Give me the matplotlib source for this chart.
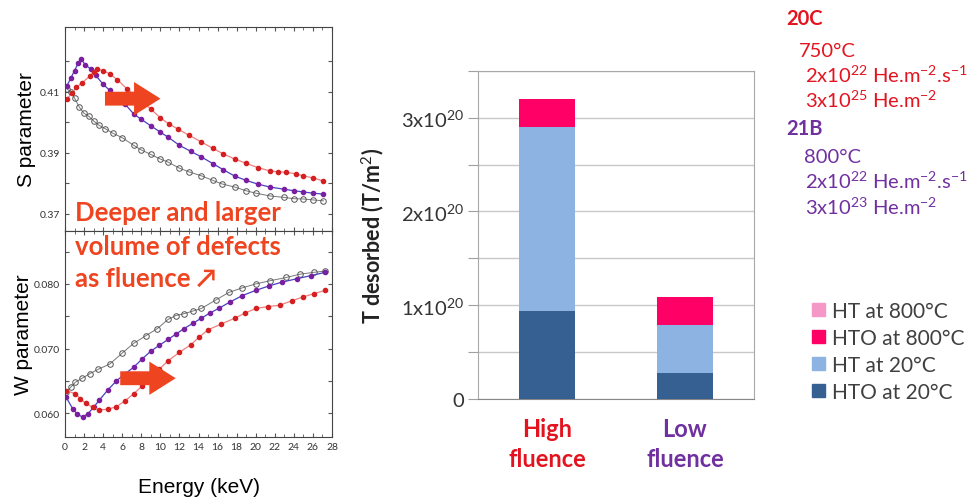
import numpy as np
import matplotlib
matplotlib.use("Agg")
import matplotlib.pyplot as plt
from matplotlib.patches import Patch

plt.rcParams['font.family'] = ['Lato', 'DejaVu Sans']
plt.rcParams['mathtext.fontset'] = 'custom'
plt.rcParams['mathtext.rm'] = 'Lato'
plt.rcParams['mathtext.bf'] = 'Lato:bold'

# ---- S parameter vs energy ----
s_black_e = [0.2, 0.6, 1.0, 1.5, 2.0, 2.5, 3.0, 3.6, 4.2, 5.0, 6.0, 7.2, 8.0, 9.0, 10.0,
             10.8, 12.0, 13.0, 14.3, 15.5, 16.5, 17.8, 19.0, 20.0, 21.5, 23.0, 24.0, 25.0, 26.0, 27.1]
s_black = [0.411, 0.410, 0.408, 0.405, 0.403, 0.402, 0.4005, 0.399, 0.398, 0.3965, 0.395, 0.3925,
           0.391, 0.3895, 0.388, 0.387, 0.385, 0.3838, 0.3825, 0.381, 0.3798, 0.3788, 0.3776,
           0.3768, 0.3759, 0.3754, 0.375, 0.3749, 0.3746, 0.3743]

s_purple_e = [0.2, 0.6, 1.0, 1.4, 1.7, 2.1, 2.7, 3.2, 4.0, 4.7, 5.4, 6.3, 7.2, 8.0, 9.0, 10.0,
              10.8, 12.0, 13.2, 14.3, 15.5, 16.6, 17.8, 19.0, 20.2, 21.5, 23.0, 24.0, 25.0, 26.0, 27.1]
s_purple = [0.412, 0.4145, 0.417, 0.4195, 0.4208, 0.419, 0.4175, 0.4155, 0.4125, 0.4105, 0.4087,
            0.406, 0.4028, 0.401, 0.3989, 0.3968, 0.3952, 0.3925, 0.3905, 0.3887, 0.3865, 0.3845,
            0.3824, 0.381, 0.3798, 0.3788, 0.3781, 0.3776, 0.3772, 0.3768, 0.3765]

s_red_e = [0.2, 0.7, 1.2, 1.8, 2.6, 3.0, 3.4, 4.0, 4.7, 5.5, 6.5, 7.3, 8.2, 9.0, 10.0, 10.9, 11.8,
           13.0, 14.3, 15.5, 16.6, 17.8, 19.0, 20.2, 21.5, 22.3, 23.2, 24.2, 25.0, 26.0, 27.1]
s_red = [0.4077, 0.4095, 0.4116, 0.413, 0.4152, 0.4165, 0.4175, 0.417, 0.4159, 0.414, 0.411,
         0.409, 0.4065, 0.4044, 0.4015, 0.3995, 0.3979, 0.3958, 0.3936, 0.3915, 0.3897, 0.388,
         0.3866, 0.3852, 0.3841, 0.3838, 0.3837, 0.3831, 0.3825, 0.3818, 0.3808]

# ---- W parameter vs energy ----
w_black_e = [0.1, 0.6, 1.1, 1.8, 2.6, 3.5, 4.7, 6.0, 7.2, 8.5, 9.7, 10.8, 11.6, 12.5, 13.4, 14.3,
             15.8, 17.2, 18.6, 20.0, 21.5, 23.2, 24.6, 26.1, 27.3]
w_black = [0.0632, 0.064, 0.0648, 0.0654, 0.0661, 0.0668, 0.0676, 0.0693, 0.0708, 0.072, 0.0731,
           0.0745, 0.0751, 0.0754, 0.0758, 0.0762, 0.0775, 0.0787, 0.0794, 0.08, 0.0805, 0.081,
           0.0815, 0.0818, 0.082]

w_purple_e = [0.1, 0.8, 1.3, 1.85, 2.4, 3.0, 3.6, 4.5, 5.4, 6.3, 7.2, 8.1, 9.0, 9.9, 10.8, 11.6,
              12.5, 13.4, 14.3, 15.2, 16.1, 17.3, 18.6, 20.0, 21.4, 22.8, 24.3, 25.8, 27.3]
w_purple = [0.0625, 0.0607, 0.0598, 0.0594, 0.0599, 0.0609, 0.062, 0.0636, 0.065, 0.0661, 0.0671,
            0.0684, 0.0696, 0.0705, 0.0714, 0.0722, 0.0731, 0.0739, 0.0747, 0.0755, 0.0762, 0.0772,
            0.0782, 0.079, 0.0797, 0.0803, 0.0808, 0.0813, 0.0818]

w_red_e = [0.1, 1.1, 1.6, 2.2, 2.9, 3.6, 4.5, 5.4, 6.3, 7.2, 8.1, 9.0, 9.9, 10.8, 12.0, 13.2, 14.1,
           15.0, 16.4, 17.8, 18.9, 20.0, 21.3, 22.5, 23.8, 25.0, 26.1, 27.3]
w_red = [0.0635, 0.063, 0.0622, 0.0615, 0.0609, 0.0605, 0.0606, 0.061, 0.0619, 0.063, 0.0642,
         0.0655, 0.0668, 0.0681, 0.0694, 0.0706, 0.0718, 0.0729, 0.0738, 0.0747, 0.0755, 0.0762,
         0.0765, 0.0767, 0.0774, 0.078, 0.0785, 0.079]

# ---- T desorbed bars (units of 1e20 T/m2) ----
fluence = ['High\nfluence', 'Low\nfluence']
fluence_colors = ['#e3141f', '#7030a0']
hto_20 = [0.94, 0.28]
ht_20 = [1.96, 0.51]
hto_800 = [0.30, 0.30]
ht_800 = [0.0, 0.0]

text_red = '#ee4420'

fig = plt.figure(figsize=(9.69, 5.02), dpi=100)
W, H = 969.0, 502.0


def box(x0, y0, x1, y1):
    return [x0 / W, 1 - y1 / H, (x1 - x0) / W, (y1 - y0) / H]


ax_s = fig.add_axes(box(65, 28, 332, 232))
ax_w = fig.add_axes(box(65, 232, 332, 438))

for ax in (ax_s, ax_w):
    ax.set_xlim(0, 28)
    ax.set_xticks(np.arange(0, 29, 2))
    ax.set_xticks(np.arange(0, 29, 1), minor=True)
    ax.tick_params(which='both', top=True, right=True, direction='in', labelsize=7.5,
                   labelcolor='#333333', color='#555555')
    ax.tick_params(which='major', length=3)
    ax.tick_params(which='minor', length=2)
    for sp in ax.spines.values():
        sp.set_color('#444444')

ax_s.plot(s_black_e, s_black, '-', color='#777777', lw=0.7, marker='o', ms=4, mfc='none',
          mec='#555555', mew=0.7)
ax_s.plot(s_purple_e, s_purple, '-', color='#4a40c0', lw=0.9, marker='o', ms=3,
          mfc='#7a1fa0', mec='#7a1fa0')
ax_s.plot(s_red_e, s_red, '-', color='#f08080', lw=0.9, marker='o', ms=3,
          mfc='#d42020', mec='#d42020')
ax_s.set_ylim(0.3644, 0.4313)
ax_s.set_yticks([0.37, 0.38, 0.39, 0.40, 0.41, 0.42])
ax_s.set_yticklabels(['0.37', '', '0.39', '', '0.41', ''])
ax_s.tick_params(axis='x', labelbottom=False)
ax_s.set_ylabel('S parameter', fontsize=15, family=['Liberation Sans'], labelpad=3)

ax_w.plot(w_black_e, w_black, '-', color='#777777', lw=0.7, marker='o', ms=4, mfc='none',
          mec='#555555', mew=0.7)
ax_w.plot(w_purple_e, w_purple, '-', color='#4a40c0', lw=0.9, marker='o', ms=3,
          mfc='#7a1fa0', mec='#7a1fa0')
ax_w.plot(w_red_e, w_red, '-', color='#f08080', lw=0.9, marker='o', ms=3,
          mfc='#d42020', mec='#d42020')
ax_w.set_ylim(0.0563, 0.0882)
ax_w.set_yticks([0.060, 0.065, 0.070, 0.075, 0.080, 0.085])
ax_w.set_yticklabels(['0.060', '', '0.070', '', '0.080', ''])
ax_w.set_ylabel('W parameter', fontsize=15, family=['Liberation Sans'], labelpad=1)
ax_w.set_xlabel('Energy (keV)', fontsize=15, family=['Liberation Sans'], labelpad=19)

# fat arrows
arrow = dict(arrowstyle='simple,head_width=1.2,head_length=0.95,tail_width=0.5',
             color=text_red, lw=0, mutation_scale=20)
ax_s.annotate('', xy=(10.3, 0.4078), xytext=(3.9, 0.4078), arrowprops=arrow)
ax_w.annotate('', xy=(11.9, 0.0654), xytext=(5.5, 0.0654), arrowprops=arrow)

fig.text(75 / W, 1 - 213 / H, 'Deeper and larger', color=text_red, fontsize=18.5,
         fontweight='bold', va='center')
fig.text(75 / W, 1 - 247 / H, 'volume of defects', color=text_red, fontsize=18.5,
         fontweight='bold', va='center')
fig.text(75 / W, 1 - 279 / H, 'as fluence \u2197', color=text_red, fontsize=18.5,
         fontweight='bold', va='center')

# ---- stacked bars ----
ax_b = fig.add_axes(box(478, 71.7, 754, 400))
x = np.arange(len(fluence))
bw = 0.4
ax_b.bar(x, hto_20, bw, color='#376092', zorder=3)
ax_b.bar(x, ht_20, bw, bottom=hto_20, color='#8db3e2', zorder=3)
base = np.array(hto_20) + np.array(ht_20)
ax_b.bar(x, hto_800, bw, bottom=base, color='#ff0066', zorder=3)
ax_b.bar(x, ht_800, bw, bottom=base + np.array(hto_800), color='#f598c8', zorder=3)
ax_b.set_xlim(-0.5, 1.5)
ax_b.set_ylim(0, 3.5)
ax_b.set_yticks(np.arange(0, 3.51, 0.5))
ax_b.set_yticklabels(['0', '', '1x10$^{20}$', '', '2x10$^{20}$', '', '3x10$^{20}$', ''])
ax_b.yaxis.grid(True, color='#c8c8c8', lw=1, zorder=0)
ax_b.tick_params(axis='y', length=7, color='#a0a0a0', labelsize=14.5, labelcolor='#333333', pad=3)
ax_b.tick_params(axis='x', length=0, labelbottom=False)
for sp in ax_b.spines.values():
    sp.set_color('#a8a8a8')
ax_b.spines['bottom'].set_color('#888888')
ax_b.set_ylabel('T desorbed (T/m$^{2}$)', fontsize=15.5, fontweight='bold', color='#222222',
                labelpad=10)
for i, lab in enumerate(fluence):
    ax_b.text(x[i], -0.055, lab, transform=ax_b.get_xaxis_transform(), ha='center', va='top',
              fontsize=17, fontweight='bold', color=fluence_colors[i], linespacing=1.35)

fig.legend([Patch(color='#f598c8'), Patch(color='#ff0066'), Patch(color='#8db3e2'),
            Patch(color='#376092')],
           ['HT at 800°C', 'HTO at 800°C', 'HT at 20°C', 'HTO at 20°C'],
           loc='upper left', bbox_to_anchor=(812 / W, 1 - 302 / H), frameon=False,
           fontsize=15, handlelength=0.6, handleheight=0.6, handletextpad=0.35,
           labelspacing=0.33, labelcolor='#404040', borderaxespad=0, borderpad=0)

# ---- conditions text ----
red_c = '#e3141f'
pur_c = '#7030a0'
cond = [
    (786, 25, '20C', red_c, 'bold'),
    (799, 57, '750°C', red_c, 'normal'),
    (805, 83, '2x10$^{22}$ He.m$^{-2}$.s$^{-1}$', red_c, 'normal'),
    (805, 108, '3x10$^{25}$ He.m$^{-2}$', red_c, 'normal'),
    (786, 135, '21B', pur_c, 'bold'),
    (804, 163, '800°C', pur_c, 'normal'),
    (805, 189, '2x10$^{22}$ He.m$^{-2}$.s$^{-1}$', pur_c, 'normal'),
    (805, 215, '3x10$^{23}$ He.m$^{-2}$', pur_c, 'normal'),
]
for cx, cy, s, c, fw in cond:
    fig.text(cx / W, 1 - cy / H, s, color=c, fontsize=14.5, fontweight=fw, va='baseline')

fig.savefig('out.png', dpi=100)
